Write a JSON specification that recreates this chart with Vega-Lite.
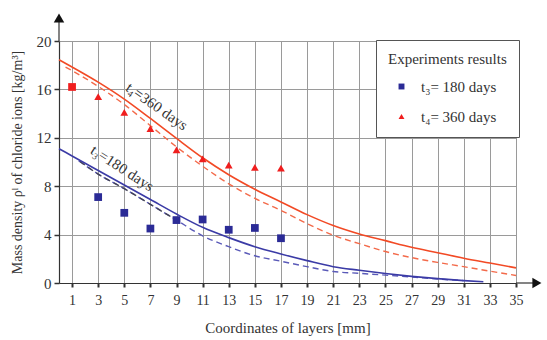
{
  "$schema": "https://vega.github.io/schema/vega-lite/v6.json",
  "autosize": "none",
  "width": 457,
  "height": 242,
  "padding": {"left": 59, "top": 41, "right": 31, "bottom": 57},
  "background": "white",
  "config": {
    "font": "Liberation Serif",
    "view": {"stroke": null},
    "axis": {"labelFont": "Liberation Serif", "titleFont": "Liberation Serif", "titleFontWeight": "normal", "labelColor": "#333", "titleColor": "#333", "labelOverlap": false}
  },
  "datasets": {
    "points": [
      {"x": 3, "y": 7.1, "s": "t₃= 180 days"},
      {"x": 5, "y": 5.8, "s": "t₃= 180 days"},
      {"x": 7, "y": 4.5, "s": "t₃= 180 days"},
      {"x": 9, "y": 5.2, "s": "t₃= 180 days"},
      {"x": 11, "y": 5.25, "s": "t₃= 180 days"},
      {"x": 13, "y": 4.4, "s": "t₃= 180 days"},
      {"x": 15, "y": 4.55, "s": "t₃= 180 days"},
      {"x": 17, "y": 3.7, "s": "t₃= 180 days"},
      {"x": 3, "y": 15.4, "s": "t₄= 360 days"},
      {"x": 5, "y": 14.1, "s": "t₄= 360 days"},
      {"x": 7, "y": 12.76, "s": "t₄= 360 days"},
      {"x": 9, "y": 11.0, "s": "t₄= 360 days"},
      {"x": 11, "y": 10.25, "s": "t₄= 360 days"},
      {"x": 13, "y": 9.75, "s": "t₄= 360 days"},
      {"x": 15, "y": 9.55, "s": "t₄= 360 days"},
      {"x": 17, "y": 9.5, "s": "t₄= 360 days"}
    ],
    "overlap": [{"x": 1, "y": 16.2}],
    "redSolid": [
      {"x": 0, "y": 18.45}, {"x": 1, "y": 17.85}, {"x": 3, "y": 16.6}, {"x": 5, "y": 15.2},
      {"x": 7, "y": 13.6}, {"x": 9, "y": 11.95}, {"x": 11, "y": 10.35}, {"x": 13, "y": 8.95},
      {"x": 15, "y": 7.75}, {"x": 17, "y": 6.7}, {"x": 19, "y": 5.65}, {"x": 21, "y": 4.75},
      {"x": 23, "y": 4.05}, {"x": 25, "y": 3.5}, {"x": 27, "y": 2.95}, {"x": 29, "y": 2.5},
      {"x": 31, "y": 2.05}, {"x": 33, "y": 1.65}, {"x": 35, "y": 1.25}
    ],
    "redDashed": [
      {"x": 0.5, "y": 17.85}, {"x": 1, "y": 17.55}, {"x": 3, "y": 16.25}, {"x": 5, "y": 14.75},
      {"x": 7, "y": 13.0}, {"x": 9, "y": 11.25}, {"x": 11, "y": 9.65}, {"x": 13, "y": 8.2},
      {"x": 15, "y": 7.0}, {"x": 17, "y": 6.0}, {"x": 19, "y": 4.9}, {"x": 21, "y": 3.95},
      {"x": 23, "y": 3.25}, {"x": 25, "y": 2.6}, {"x": 27, "y": 2.1}, {"x": 29, "y": 1.7},
      {"x": 31, "y": 1.35}, {"x": 33, "y": 0.98}, {"x": 35, "y": 0.62}
    ],
    "blueSolid": [
      {"x": 0, "y": 11.1}, {"x": 1, "y": 10.5}, {"x": 3, "y": 9.3}, {"x": 5, "y": 8.1},
      {"x": 7, "y": 6.9}, {"x": 9, "y": 5.7}, {"x": 11, "y": 4.6}, {"x": 13, "y": 3.75},
      {"x": 15, "y": 3.0}, {"x": 17, "y": 2.4}, {"x": 19, "y": 1.85}, {"x": 21, "y": 1.35},
      {"x": 23, "y": 1.05}, {"x": 25, "y": 0.78}, {"x": 27, "y": 0.55}, {"x": 29, "y": 0.36},
      {"x": 31, "y": 0.2}, {"x": 32.5, "y": 0.1}
    ],
    "blueDashed": [
      {"x": 1.5, "y": 10.1}, {"x": 3, "y": 9.0}, {"x": 5, "y": 7.8}, {"x": 7, "y": 6.5},
      {"x": 9, "y": 5.2}, {"x": 11, "y": 3.9}, {"x": 13, "y": 3.0}, {"x": 15, "y": 2.25},
      {"x": 17, "y": 1.8}, {"x": 19, "y": 1.35}, {"x": 21, "y": 0.95}, {"x": 23, "y": 0.8},
      {"x": 25, "y": 0.65}, {"x": 27, "y": 0.5}, {"x": 29, "y": 0.33}, {"x": 31, "y": 0.2}
    ],
    "darkDashed": [
      {"x": 1.6, "y": 10.05}, {"x": 3, "y": 9.0}, {"x": 5, "y": 7.8}, {"x": 7, "y": 6.5}, {"x": 8.6, "y": 5.45}
    ],
    "labels": [
      {"x": 7.5, "y": 14.6, "t": "t₄=360 days", "a": 35},
      {"x": 4.85, "y": 9.5, "t": "t₃=180 days", "a": 33}
    ],
    "axisExtX": [{"x": 35, "x2": 36.6, "y": 0}],
    "axisExtY": [{"x": 0, "y": 20, "y2": 21.8}],
    "arrowX": [{"x": 36.6, "y": 0}],
    "arrowY": [{"x": 0, "y": 21.9}]
  },
  "encoding": {
    "x": {"field": "x", "type": "quantitative", "scale": {"domain": [0, 35], "nice": false},
      "axis": {"values": [1,3,5,7,9,11,13,15,17,19,21,23,25,27,29,31,33,35], "title": "Coordinates of layers [mm]",
        "grid": true, "gridColor": "#9a9a9a", "gridWidth": 1, "domainColor": "#333", "domainWidth": 1.2,
        "tickColor": "#333", "tickWidth": 2, "tickSize": 4, "labelFontSize": 14, "labelPadding": 6,
        "labelOverlap": false, "titleFontSize": 15, "titlePadding": 13, "labelFlush": false}},
    "y": {"field": "y", "type": "quantitative", "scale": {"domain": [0, 20], "nice": false},
      "axis": {"values": [0,4,8,12,16,20], "title": "Mass density ρˡ of chloride ions  [kg/m³]",
        "grid": true, "gridColor": "#9a9a9a", "gridWidth": 1, "domainColor": "#333", "domainWidth": 1.2,
        "tickColor": "#333", "tickWidth": 1.5, "tickSize": 5, "labelFontSize": 15, "labelPadding": 3,
        "labelOverlap": false, "titleFontSize": 14, "titlePadding": 12}}
  },
  "layer": [
    {
      "data": {"name": "redSolid"},
      "mark": {"type": "line", "color": "#f24a25", "strokeWidth": 1.6, "interpolate": "monotone"}
    },
    {
      "data": {"name": "redDashed"},
      "mark": {"type": "line", "color": "#f36a4a", "strokeWidth": 1.4, "strokeDash": [6, 4], "interpolate": "monotone"}
    },
    {
      "data": {"name": "blueDashed"},
      "mark": {"type": "line", "color": "#5a5ab8", "strokeWidth": 1.4, "strokeDash": [6, 4], "interpolate": "monotone"}
    },
    {
      "data": {"name": "darkDashed"},
      "mark": {"type": "line", "color": "#444455", "strokeWidth": 1.4, "strokeDash": [6, 4], "interpolate": "monotone"}
    },
    {
      "data": {"name": "blueSolid"},
      "mark": {"type": "line", "color": "#3b3ba6", "strokeWidth": 1.6, "interpolate": "monotone"}
    },
    {
      "data": {"name": "points"},
      "mark": {"type": "point", "filled": true, "opacity": 1, "size": 60},
      "encoding": {
        "color": {"field": "s", "type": "nominal",
          "scale": {"domain": ["t₃= 180 days", "t₄= 360 days"], "range": ["#2b2b96", "#f01e1e"]},
          "legend": {"title": "Experiments results", "orient": "none", "legendX": 317, "legendY": -1,
            "fillColor": "white", "strokeColor": "#555", "padding": 12,
            "titleFontSize": 15, "titleFont": "Liberation Serif", "titleFontWeight": "normal", "titleColor": "#333",
            "labelFontSize": 15, "labelFont": "Liberation Serif", "labelColor": "#333",
            "titlePadding": 12, "rowPadding": 14, "symbolSize": 35, "symbolOffset": 6, "labelOffset": 12,
            "encode": {"legend": {"update": {"strokeWidth": {"value": 1.5}}}}}},
        "shape": {"field": "s", "type": "nominal",
          "scale": {"domain": ["t₃= 180 days", "t₄= 360 days"], "range": ["square", "triangle-up"]},
          "legend": null}
      }
    },
    {
      "data": {"name": "overlap"},
      "mark": {"type": "point", "shape": "square", "filled": true, "opacity": 1, "size": 60, "color": "#f01e1e"}
    },
    {
      "data": {"name": "labels"},
      "mark": {"type": "text", "font": "Liberation Serif", "fontSize": 15, "color": "#333"},
      "encoding": {
        "text": {"field": "t"},
        "angle": {"field": "a", "type": "quantitative", "scale": null}
      }
    },
    {
      "data": {"name": "axisExtX"},
      "mark": {"type": "rule", "color": "#333", "strokeWidth": 1.2},
      "encoding": {"x2": {"field": "x2"}}
    },
    {
      "data": {"name": "axisExtY"},
      "mark": {"type": "rule", "color": "#333", "strokeWidth": 1.2},
      "encoding": {"y2": {"field": "y2"}}
    },
    {
      "data": {"name": "arrowX"},
      "mark": {"type": "point", "shape": "triangle-right", "filled": true, "opacity": 1, "color": "#111", "size": 110}
    },
    {
      "data": {"name": "arrowY"},
      "mark": {"type": "point", "shape": "triangle-up", "filled": true, "opacity": 1, "color": "#111", "size": 110}
    }
  ]
}
